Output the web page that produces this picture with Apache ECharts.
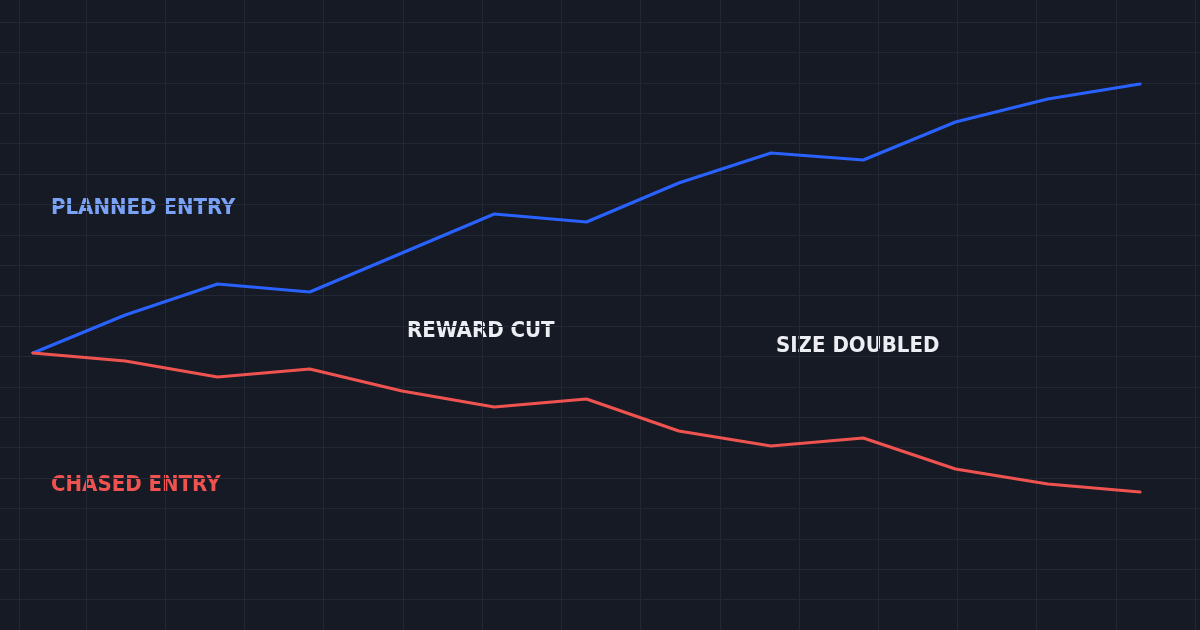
<!DOCTYPE html>
<html>
<head>
<meta charset="utf-8">
<script src="https://cdn.jsdelivr.net/npm/echarts@6/dist/echarts.min.js"></script>
<style>
  html, body { margin: 0; padding: 0; background: #161a25; }
  #chart { width: 1200px; height: 630px; }
</style>
</head>
<body>
<div id="chart"></div>
<script>
// data (% change from the entry point)
var steps = ['0', '1', '2', '3', '4', '5', '6', '7', '8', '9', '10', '11', '12'];
var plannedEntry = [0, 3.8, 6.9, 6.1, 10.0, 13.9, 13.1, 17.0, 20.0, 19.3, 23.1, 25.4, 26.9];
var chasedEntry = [0, -0.8, -2.4, -1.6, -3.8, -5.4, -4.6, -7.8, -9.3, -8.5, -11.6, -13.1, -13.9];
var labelTexts = ['PLANNED ENTRY', 'REWARD CUT', 'SIZE DOUBLED', 'CHASED ENTRY'];

var gridColor = '#232734';
var font = 'bold 22px "DejaVu Sans Condensed"';

var myChart = echarts.init(document.getElementById('chart'), null, { renderer: 'canvas' });

var hidden = { show: false };
function lineAxis(gridIndex, max, showSplit) {
    return {
        type: 'value', gridIndex: gridIndex, min: 0, max: max, interval: 1,
        axisLine: hidden, axisTick: hidden, axisLabel: hidden,
        splitLine: { show: showSplit, lineStyle: { color: gridColor, width: 1 } }
    };
}

var option = {
    backgroundColor: '#161a25',
    animation: false,
    grid: [
        // background lines
        { left: 19, width: 67, top: 0, bottom: 0 },
        { left: 86, width: 1109.2, top: 0, bottom: 0 },
        { left: 0, right: 0, top: 22, height: 616.8 },
        // data
        { left: 33, right: 60, top: 0, bottom: 0 }
    ],
    xAxis: [
        lineAxis(0, 1, true),
        lineAxis(1, 14, true),
        lineAxis(2, 1, false),
        {
            type: 'category', gridIndex: 3, data: steps, boundaryGap: false,
            axisLine: hidden, axisTick: hidden, axisLabel: hidden, splitLine: hidden
        }
    ],
    yAxis: [
        lineAxis(0, 1, false),
        lineAxis(1, 1, false),
        lineAxis(2, 20, true),
        {
            type: 'value', gridIndex: 3, min: -27.7, max: 35.3,
            axisLine: hidden, axisTick: hidden, axisLabel: hidden, splitLine: hidden
        }
    ],
    series: [
        {
            name: 'Planned entry', type: 'line', xAxisIndex: 3, yAxisIndex: 3,
            data: plannedEntry, symbol: 'none', smooth: false,
            lineStyle: { color: '#2962ff', width: 3.2, cap: 'round', join: 'round' }
        },
        {
            name: 'Chased entry', type: 'line', xAxisIndex: 3, yAxisIndex: 3,
            data: chasedEntry, symbol: 'none', smooth: false,
            lineStyle: { color: '#ef5350', width: 3.2, cap: 'round', join: 'round' }
        }
    ],
    graphic: [
        { type: 'text', left: 51, top: 197, style: { text: labelTexts[0], fill: '#7aa2f7', font: font } },
        { type: 'text', left: 407, top: 320, style: { text: labelTexts[1], fill: '#eceef4', font: font } },
        { type: 'text', left: 776, top: 335, style: { text: labelTexts[2], fill: '#eceef4', font: font } },
        { type: 'text', left: 51, top: 474, style: { text: labelTexts[3], fill: '#ef5350', font: font } }
    ]
};
myChart.setOption(option);
</script>
</body>
</html>
